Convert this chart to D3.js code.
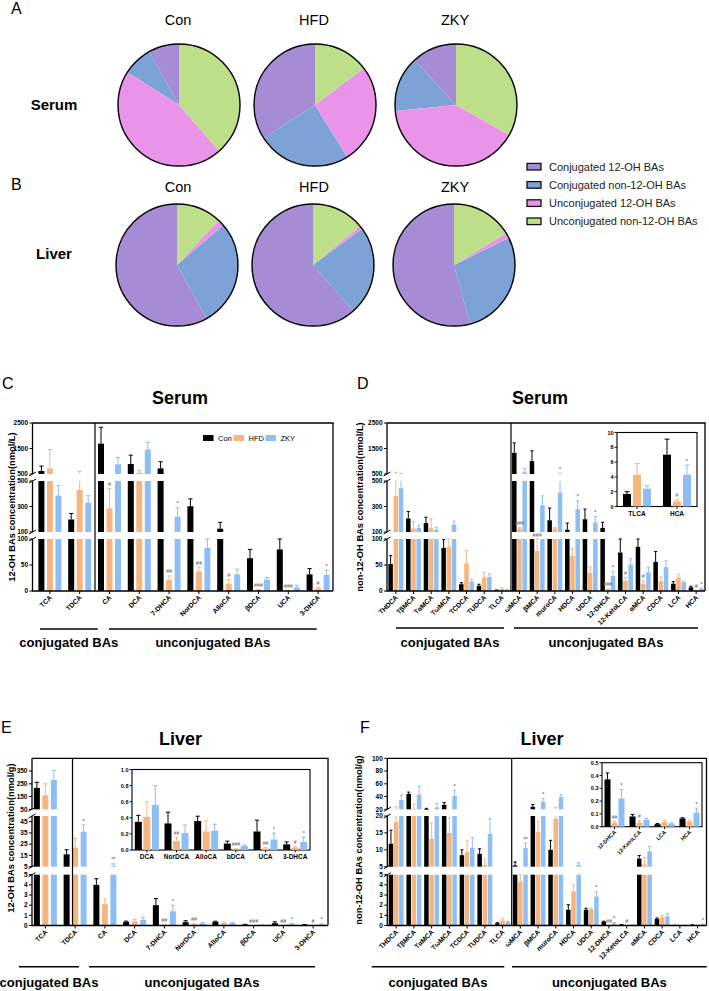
<!DOCTYPE html>
<html><head><meta charset="utf-8">
<script src="https://cdn.jsdelivr.net/npm/d3@7"></script>
<style>body{margin:0;background:#fff}svg{display:block;font-family:"Liberation Sans",Arial,sans-serif}</style>
</head><body><svg id="c" width="709" height="991"></svg>
<script>
// ---------------- DATA ----------------
const pieGroups = ["Con", "HFD", "ZKY"];
const pieCategories = ["Conjugated 12-OH BAs", "Conjugated non-12-OH BAs", "Unconjugated 12-OH BAs", "Unconjugated non-12-OH BAs"];
const serumPieCon = [8.1, 7.9, 45.4, 38.6];
const serumPieHFD = [34.1, 24.7, 26.5, 14.7];
const serumPieZKY = [11.9, 14.7, 40.2, 33.2];
const liverPieCon = [58.0, 28.3, 1.7, 12.0];
const liverPieHFD = [61.5, 23.6, 0.9, 14.0];
const liverPieZKY = [54.2, 28.1, 1.4, 16.3];

const seriesNames = ["Con", "HFD", "ZKY"];

// C: serum 12-OH BAs (nmol/L)
const c12Categories = ["TCA", "TDCA", "CA", "DCA", "7-DHCA", "NorDCA", "AlloCA", "βDCA", "UCA", "3-DHCA"];
const c12Con    = [620, 198, 1690, 890, 720, 302, 126, 63, 80, 32];
const c12ConErr = [810, 245, 2330, 1240, 980, 360, 176, 80, 100, 43];
const c12HFD    = [720, 430, 285, 550, 21, 38, 14, 2, 1, 5];
const c12HFDErr = [1460, 610, 440, 650, 29, 46, 22, 3, 1.5, 7];
const c12ZKY    = [385, 330, 880, 1460, 220, 83, 32, 22, 7, 31];
const c12ZKYErr = [463, 385, 1150, 1740, 290, 100, 42, 26, 11, 40];
const c12HFDMarks = ["", "", "#", "", "##", "##", "#", "###", "###", "#"];
const c12ZKYMarks = ["", "", "", "", "*", "", "", "", "", "*"];

// D: serum non-12-OH BAs (nmol/L)
const dCategories = ["THDCA", "TβMCA", "TαMCA", "TωMCA", "TCDCA", "TUDCA", "TLCA", "ωMCA", "βMCA", "muroCA", "HDCA", "UDCA", "12-DHCA", "12-KetoLCA", "αMCA", "CDCA", "LCA", "HCA"];
const dCon    = [52, 206, 170, 83, 13, 10, 1.7, 1330, 1006, 192, 118, 200, 132, 74, 85, 56, 14, 7];
const dConErr = [68, 261, 216, 99, 16, 13, 2.0, 1720, 1410, 288, 170, 280, 176, 100, 100, 76, 18, 9.1];
const dHFD    = [383, 128, 130, 85, 53, 26, 4.3, 128, 77, 128, 68, 35, 3, 20, 14, 19, 26, 0.7];
const dHFDErr = [565, 183, 203, 100, 78, 36, 5.8, 135, 100, 135, 82, 46, 4, 26, 20, 27, 32, 0.9];
const dZKY    = [443, 132, 118, 157, 18, 27, 2.4, 565, 310, 410, 280, 175, 29, 51, 36, 46, 17, 4.3];
const dZKYErr = [526, 153, 137, 185, 23, 33, 2.8, 720, 383, 525, 344, 221, 38, 62, 46, 58, 19, 5.6];
const dHFDMarks = ["", "", "", "", "", "", "", "###", "###", "", "", "", "###", "#", "#", "", "", "#"];
const dZKYMarks = ["", "", "", "", "", "", "", "", "", "*", "*", "*", "*", "", "", "", "", "*"];
const dInsetCategories = ["TLCA", "HCA"];
const dInsetIndex = [6, 17];

// E: liver 12-OH BAs (nmol/g)
const e12Categories = ["TCA", "TDCA", "CA", "DCA", "7-DHCA", "NorDCA", "AlloCA", "βDCA", "UCA", "3-DHCA"];
const e12Con    = [218, 16, 4.0, 0.35, 2.0, 0.33, 0.36, 0.08, 0.23, 0.07];
const e12ConErr = [262, 20, 4.6, 0.43, 2.65, 0.47, 0.42, 0.11, 0.37, 0.10];
const e12HFD    = [160, 22, 2.1, 0.41, 0.05, 0.11, 0.23, 0.01, 0.02, 0.03];
const e12HFDErr = [250, 30, 2.6, 0.60, 0.07, 0.16, 0.36, 0.015, 0.03, 0.04];
const e12ZKY    = [280, 36, 5.6, 0.56, 1.4, 0.21, 0.24, 0.05, 0.13, 0.10];
const e12ZKYErr = [355, 42, 7.5, 0.80, 2.0, 0.31, 0.32, 0.065, 0.21, 0.16];
const e12HFDMarks = ["", "", "", "", "##", "##", "", "###", "##", "#"];
const e12ZKYMarks = ["", "*", "**", "", "*", "", "", "", "*", "*"];
const eInsetCategories = ["DCA", "NorDCA", "AlloCA", "bDCA", "UCA", "3-DHCA"];
const eInsetIndex = [3, 5, 6, 7, 8, 9];

// F: liver non-12-OH BAs (nmol/g)
const fCategories = ["THDCA", "TβMCA", "TαMCA", "TωMCA", "TCDCA", "TUDCA", "TLCA", "ωMCA", "βMCA", "muroCA", "HDCA", "UDCA", "12-DHCA", "12-KetoLCA", "αMCA", "CDCA", "LCA", "HCA"];
const fCon    = [11.8, 44, 20.5, 27, 8.4, 8.8, 0.22, 5.4, 24, 10, 1.55, 1.55, 0.37, 0.08, 7.4, 0.65, 0.02, 0.065];
const fConErr = [15.8, 47, 21.5, 30.5, 10, 10.3, 0.28, 6.4, 27.5, 12.8, 2.05, 1.7, 0.42, 0.095, 8.3, 0.75, 0.025, 0.07];
const fHFD    = [18.2, 20.5, 13.3, 15, 9.3, 5.5, 0.5, 4.3, 15.3, 19.2, 3.35, 1.6, 0.03, 0.03, 5.7, 0.8, 0.035, 0.04];
const fHFDErr = [24, 28, 18, 19.5, 12.8, 7.2, 0.7, 5.0, 18.5, 23, 4.0, 1.7, 0.04, 0.045, 7.7, 1.0, 0.05, 0.05];
const fZKY    = [34.5, 43, 23, 41, 10.6, 14.7, 0.38, 10.5, 32, 39, 5.5, 2.85, 0.22, 0.055, 9.5, 0.9, 0.025, 0.11];
const fZKYErr = [42.5, 56, 29.5, 50, 13.6, 19.2, 0.42, 12, 37, 43, 6.2, 3.3, 0.29, 0.065, 11, 1.2, 0.03, 0.145];
const fHFDMarks = ["", "", "", "", "", "", "", "", "", "", "", "", "##", "#", "", "", "", ""];
const fZKYMarks = ["", "", "", "*", "", "", "", "**", "*", "", "", "*", "*", "", "", "", "", "*"];
const fInsetCategories = ["12-DHCA", "12-KetoLCA", "LCA", "HCA"];
const fInsetIndex = [12, 13, 16, 17];

// ---------------- STYLE ----------------
const pieColors = ["#A68BD5", "#7CA2D6", "#E994E9", "#BDDF89"];
const barColors = ["#000000", "#F6B47E", "#8DBFF4"];
const svg = d3.select("#c");

function txt(x, y, s, size, opt = {}) {
  const t = svg.append("text").attr("x", x).attr("y", y).text(s)
    .attr("font-size", size).attr("fill", opt.fill || "#000")
    .attr("font-weight", opt.bold ? "bold" : "normal")
    .attr("text-anchor", opt.anchor || "start");
  if (opt.rotate !== undefined) t.attr("transform", `rotate(${opt.rotate},${x},${y})`);
  return t;
}
function line(x1, y1, x2, y2, color = "#000", w = 1.2) {
  svg.append("line").attr("x1", x1).attr("y1", y1).attr("x2", x2).attr("y2", y2)
    .attr("stroke", color).attr("stroke-width", w);
}

// ---------------- PIES ----------------
const pieGen = d3.pie().sort(null).startAngle(0).endAngle(-2 * Math.PI);
const R = 61;
const arc = d3.arc().innerRadius(0).outerRadius(R);
function drawPie(vals, cx, cy) {
  const g = svg.append("g").attr("transform", `translate(${cx},${cy})`);
  g.selectAll("path").data(pieGen(vals)).join("path").attr("d", arc).attr("fill", (d, k) => pieColors[k]);
  g.append("circle").attr("r", R).attr("fill", "none").attr("stroke", "#000").attr("stroke-width", 1.4);
}
const pieX = [179, 315, 456];
[serumPieCon, serumPieHFD, serumPieZKY].forEach((v, i) => drawPie(v, pieX[i], 105));
[liverPieCon, liverPieHFD, liverPieZKY].forEach((v, i) => drawPie(v, pieX[i] - 2, 265));
pieGroups.forEach((n, i) => {
  txt(pieX[i] - 1, 25, n, 14.5, { anchor: "middle" });
  txt(pieX[i] - 1, 192, n, 14.5, { anchor: "middle" });
});
txt(11, 14, "A", 16);
txt(11, 190, "B", 16);
txt(54, 110, "Serum", 15, { bold: true, anchor: "middle" });
txt(54, 259, "Liver", 15, { bold: true, anchor: "middle" });
pieCategories.forEach((c, i) => {
  const y = 166.7 + i * 18.2;
  svg.append("rect").attr("x", 527).attr("y", y - 3.3).attr("width", 14).attr("height", 6.6)
    .attr("fill", pieColors[i]).attr("stroke", "#111").attr("stroke-width", 1.3);
  txt(549, y + 4, c, 11, { fill: "#222" });
});

// ---------------- BAR PANELS ----------------
function barPanel(o) {
  const x = d3.scaleBand().domain(o.categories).range(o.xRange);
  const segs = o.segments.map(s => Object.assign({}, s, { sc: d3.scaleLinear().domain([s.lo, s.hi]).range([s.y0, s.y1]) }));
  const bottomY = segs[0].y0, topY = segs[segs.length - 1].y1;
  const cxOf = (i, j) => x(o.categories[i]) + x.bandwidth() / 2 + o.offsets[j];
  o.series.forEach((ser, j) => {
    ser.vals.forEach((v, i) => {
      const cx = cxOf(i, j);
      segs.forEach(s => {
        if (v > s.lo) {
          const t = Math.min(v, s.hi);
          svg.append("rect").attr("x", cx - o.barW / 2).attr("y", s.sc(t))
            .attr("width", o.barW).attr("height", Math.max(0.7, s.sc(s.lo) - s.sc(t))).attr("fill", ser.color);
        }
      });
    });
  });
  o.series.forEach((ser, j) => {
    ser.vals.forEach((v, i) => {
      const e = ser.errs[i], cx = cxOf(i, j);
      const ec = j === 0 ? "#000" : ser.color;
      segs.forEach(s => {
        const a = Math.max(v, s.lo), b = Math.min(e, s.hi);
        if (b > a) line(cx, s.sc(a), cx, s.sc(b), ec, 1);
        if (e > s.lo && e <= s.hi) line(cx - o.barW * 0.35, s.sc(e), cx + o.barW * 0.35, s.sc(e), ec, 1);
      });
      const m = ser.marks ? ser.marks[i] : "";
      if (m) {
        let y = topY;
        segs.forEach(s => { if (e > s.lo && e <= s.hi) y = s.sc(e); });
        if (e <= segs[0].lo) y = bottomY;
        txt(cx, y - 2.5, m, 5.5, { anchor: "middle", fill: "#777", bold: true });
      }
    });
  });
  segs.forEach((s, k) => {
    line(o.axisX, s.y0, o.axisX, s.y1, "#000", 1.3);
    s.ticks.forEach(t => {
      const y = s.sc(t);
      line(o.axisX - 3, y, o.axisX, y, "#000", 1);
      txt(o.axisX - 4.5, y + 2.3, t, 6.5, { anchor: "end", bold: true });
    });
    if (k < segs.length - 1) {
      const yA = s.y1, yB = segs[k + 1].y0;
      [yA, yB].forEach(yy => line(o.axisX - 3.5, yy + 2, o.axisX + 3.5, yy - 2, "#000", 1));
    }
  });
  line(o.axisX - 0.6, bottomY, o.rightX, bottomY, "#000", 1.3);
  line(o.axisX, topY, o.rightX + 0.6, topY, "#000", 1.3);
  line(o.rightX, topY, o.rightX, bottomY, "#000", 1.3);
  line(o.dividerX, topY, o.dividerX, bottomY, "#000", 1.2);
  o.categories.forEach((c, i) => {
    const cx = x(c) + x.bandwidth() / 2;
    line(cx, bottomY, cx, bottomY + 3, "#000", 1);
    txt(cx + 2.5, bottomY + 7, c, 6.8, { anchor: "end", bold: true, rotate: -45 });
  });
}

function insetPanel(o) {
  const x = d3.scaleBand().domain(o.categories).range([o.left, o.right]);
  const y = d3.scaleLinear().domain(o.domain).range([o.bottom, o.top]);
  svg.append("rect").attr("x", o.left).attr("y", o.top).attr("width", o.right - o.left)
    .attr("height", o.bottom - o.top).attr("fill", "#fff").attr("stroke", "#000").attr("stroke-width", 1.1);
  o.series.forEach((ser, j) => {
    o.index.forEach((idx, i) => {
      const cx = x(o.categories[i]) + x.bandwidth() / 2 + o.offsets[j];
      const v = ser.vals[idx], e = ser.errs[idx];
      svg.append("rect").attr("x", cx - o.barW / 2).attr("y", y(v)).attr("width", o.barW)
        .attr("height", Math.max(0.7, y(0) - y(v))).attr("fill", ser.color);
      const ec = j === 0 ? "#000" : ser.color;
      if (e > v) {
        line(cx, y(v), cx, y(e), ec, 1);
        line(cx - o.barW * 0.3, y(e), cx + o.barW * 0.3, y(e), ec, 1);
      }
      const m = ser.marks ? ser.marks[idx] : "";
      if (m) txt(cx, y(Math.max(e, v)) - 2.5, m, 5, { anchor: "middle", fill: "#777", bold: true });
    });
  });
  o.ticks.forEach(t => {
    line(o.left - 2.5, y(t), o.left, y(t), "#000", 0.9);
    txt(o.left - 3.5, y(t) + 2, o.fmt(t), 5.5, { anchor: "end", bold: true });
  });
  o.categories.forEach((c, i) => {
    const cx = x(c) + x.bandwidth() / 2;
    line(cx, o.bottom, cx, o.bottom + 2.5, "#000", 0.9);
    if (o.rotate) txt(cx + 2, o.bottom + 6, c, 5.5, { anchor: "end", bold: true, rotate: -45 });
    else txt(cx, o.bottom + 9, c, 6.5, { anchor: "middle", bold: true });
  });
}

function mkSeries(vals, errs, marks) {
  return vals.map((v, j) => ({ vals: v, errs: errs[j], marks: marks[j], color: barColors[j] }));
}

// ---- C ----
const segC = [
  { lo: 0, hi: 100, y0: 591, y1: 539, ticks: [0, 50, 100] },
  { lo: 100, hi: 500, y0: 532, y1: 481, ticks: [100, 300, 500] },
  { lo: 500, hi: 2500, y0: 474, y1: 423, ticks: [500, 1500, 2500] }
];
const serC = mkSeries([c12Con, c12HFD, c12ZKY], [c12ConErr, c12HFDErr, c12ZKYErr], [null, c12HFDMarks, c12ZKYMarks]);
barPanel({ categories: c12Categories, xRange: [35, 333], axisX: 32.5, rightX: 333, dividerX: 95,
  segments: segC, barW: 6, offsets: [-8.5, 0, 8.5], series: serC });
seriesNames.forEach((n, j) => {
  const lx = [203, 233.5, 265.5][j];
  svg.append("rect").attr("x", lx).attr("y", 435).attr("width", 10.5).attr("height", 6).attr("fill", barColors[j]);
  txt(lx + 15, 440.7, n, 7.5);
});

// ---- D ----
const serD = mkSeries([dCon, dHFD, dZKY], [dConErr, dHFDErr, dZKYErr], [null, dHFDMarks, dZKYMarks]);
barPanel({ categories: dCategories, xRange: [387, 705], axisX: 387, rightX: 705, dividerX: 511,
  segments: segC, barW: 4.5, offsets: [-5.2, 0, 5.2], series: serD });
insetPanel({ categories: dInsetCategories, index: dInsetIndex, left: 617, right: 697, top: 432.5, bottom: 506.5,
  domain: [0, 10], ticks: [0, 2, 4, 6, 8, 10], fmt: d3.format("d"), barW: 8, offsets: [-10, 0, 10],
  series: serD, rotate: false });

// ---- E ----
const segEF = (a, b, c) => [
  { lo: 0, hi: 5, y0: 925.5, y1: 874.7, ticks: a },
  { lo: b[0], hi: b[1], y0: 866.7, y1: 816, ticks: b[2] },
  { lo: c[0], hi: c[1], y0: 809.3, y1: 758.3, ticks: c[2] }
];
const serE = mkSeries([e12Con, e12HFD, e12ZKY], [e12ConErr, e12HFDErr, e12ZKYErr], [null, e12HFDMarks, e12ZKYMarks]);
barPanel({ categories: e12Categories, xRange: [30.5, 328], axisX: 32, rightX: 328, dividerX: 72.5,
  segments: segEF([0, 1, 2, 3, 4, 5], [5, 50, [5, 15, 25, 35, 45]], [50, 450, [50, 150, 250, 350]]),
  barW: 6, offsets: [-8.5, 0, 8.5], series: serE });
insetPanel({ categories: eInsetCategories, index: eInsetIndex, left: 132, right: 310, top: 769.5, bottom: 850,
  domain: [0, 1], ticks: [0, 0.2, 0.4, 0.6, 0.8, 1.0], fmt: d3.format(".1f"), barW: 7, offsets: [-8.5, 0, 8.5],
  series: serE, rotate: false });

// ---- F ----
const serF = mkSeries([fCon, fHFD, fZKY], [fConErr, fHFDErr, fZKYErr], [null, fHFDMarks, fZKYMarks]);
barPanel({ categories: fCategories, xRange: [387.3, 706.5], axisX: 387.3, rightX: 706.5, dividerX: 511.7,
  segments: segEF([0, 1, 2, 3, 4, 5], [5, 20, [5, 10, 15, 20]], [20, 100, [20, 40, 60, 80, 100]]),
  barW: 4.5, offsets: [-5.2, 0, 5.2], series: serF });
insetPanel({ categories: fInsetCategories, index: fInsetIndex, left: 602, right: 702, top: 762.7, bottom: 826.7,
  domain: [0, 0.5], ticks: [0, 0.1, 0.2, 0.3, 0.4, 0.5], fmt: d3.format(".1f"), barW: 6, offsets: [-7, 0, 7],
  series: serF, rotate: true });

// ---------------- TITLES & LABELS ----------------
txt(2, 389, "C", 16);
txt(357, 389, "D", 16);
txt(1, 733, "E", 16);
txt(360, 733, "F", 16);
txt(180, 404, "Serum", 18, { bold: true, anchor: "middle" });
txt(540, 404, "Serum", 18, { bold: true, anchor: "middle" });
txt(180.5, 745, "Liver", 18, { bold: true, anchor: "middle" });
txt(542, 745, "Liver", 18, { bold: true, anchor: "middle" });
txt(14.5, 507, "12-OH BAs concentration(nmol/L)", 9.3, { bold: true, anchor: "middle", rotate: -90 });
txt(363, 507, "non-12-OH BAs concentration(nmol/L)", 9.3, { bold: true, anchor: "middle", rotate: -90 });
txt(14, 838, "12-OH BAs concentration(nmol/g)", 9.3, { bold: true, anchor: "middle", rotate: -90 });
txt(362, 840, "non-12-OH BAs concentration(nmol/g)", 9.3, { bold: true, anchor: "middle", rotate: -90 });

function group(x1, x2, y, label, ty) {
  line(x1, y, x2, y, "#000", 1.4);
  txt((x1 + x2) / 2, ty, label, 13, { bold: true, anchor: "middle" });
}
group(40, 97.7, 629, "conjugated BAs", 647);
group(109, 316.7, 629, "unconjugated BAs", 647);
group(396, 504, 628, "conjugated BAs", 647);
group(514, 698, 628, "unconjugated BAs", 647);
group(19, 79, 966.7, "conjugated BAs", 986.5);
group(89, 315, 966.7, "unconjugated BAs", 986.5);
group(371.7, 504.3, 966.7, "conjugated BAs", 986.5);
group(512, 706.7, 966.7, "unconjugated BAs", 986.5);
</script></body></html>
